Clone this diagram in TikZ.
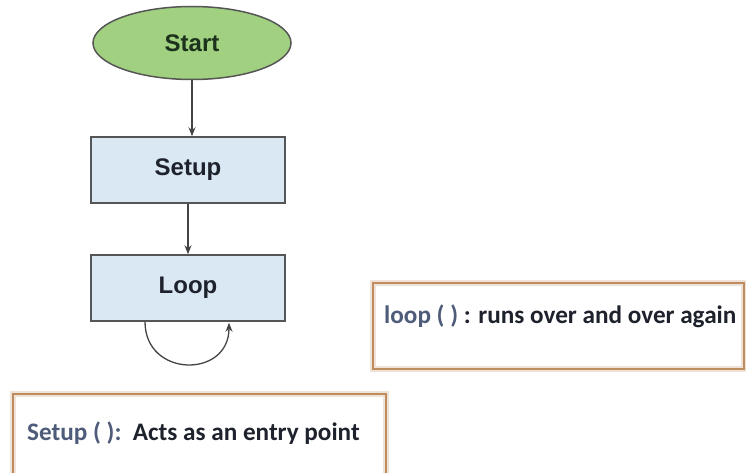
\documentclass[tikz,border=0pt]{standalone}
\usepackage{fontspec}
\setmainfont{Liberation Sans}
\newfontfamily\notefont{Carlito}
\usetikzlibrary{shapes.geometric,positioning,arrows.meta}
\definecolor{startgreen}{RGB}{160,208,128}
\definecolor{boxblue}{RGB}{218,232,243}
\definecolor{flowgray}{RGB}{85,85,85}
\definecolor{noteedge}{RGB}{190,140,95}
\definecolor{fnname}{RGB}{78,92,122}
\definecolor{inkdark}{RGB}{30,34,44}
\tikzset{
  flowbox/.style={draw=flowgray,line width=1.5,fill=boxblue,minimum width=194,minimum height=66,text=inkdark},
  noteframe/.style={draw=noteedge,line width=2,preaction={draw=noteedge!25,line width=6}},
  notetext/.style={font=\notefont\bfseries\fontsize{25.2}{30}\selectfont,text=inkdark,inner sep=0},
  flowarrow/.style={draw=flowgray!80!black,line width=1.3,-{Stealth[length=9,width=7]}}
}
\begin{document}
\begin{tikzpicture}[x=1pt,y=-1pt,every node/.style={font=\bfseries\fontsize{24}{28}\selectfont}]
    \clip (0,0) rectangle (746,473);
    \fill [white] (0,0) rectangle (746,473);
    % flowchart
    \node [ellipse,draw=flowgray,line width=1.5,fill=startgreen,minimum width=198,minimum height=73,text={rgb,255:red,28;green,50;blue,28}] (start) at (192,43) {Start};
    \node [flowbox] (setup) at (188,170) {Setup};
    \node [flowbox] (loop) at (188,288) {Loop};
    \draw [flowarrow] (start.south) -- (start.south |- setup.north);
    \draw [flowarrow] (setup.south) -- (loop.north);
    \draw [flowarrow] ([xshift=-43]loop.south) .. controls +(0,56) and +(0,56) .. ([xshift=41,yshift=-1]loop.south); % repeat
    % notes
    \node [noteframe,minimum width=371,minimum height=86,anchor=north west] (loopnote) at (372,282) {};
    \node [notetext,anchor=west] (looptext) at ([xshift=12,yshift=10]loopnote.west) {\textcolor{fnname}{loop ( )} : runs over and over again};
    \node [noteframe,minimum width=373,minimum height=110,anchor=north west] (setupnote) at (12,393) {};
    \node [notetext,anchor=west] (setuptext) at ([xshift=15]setupnote.west |- 0,433) {\textcolor{fnname}{Setup ( ):}\ \ Acts as an entry point};
\end{tikzpicture}
\end{document}
